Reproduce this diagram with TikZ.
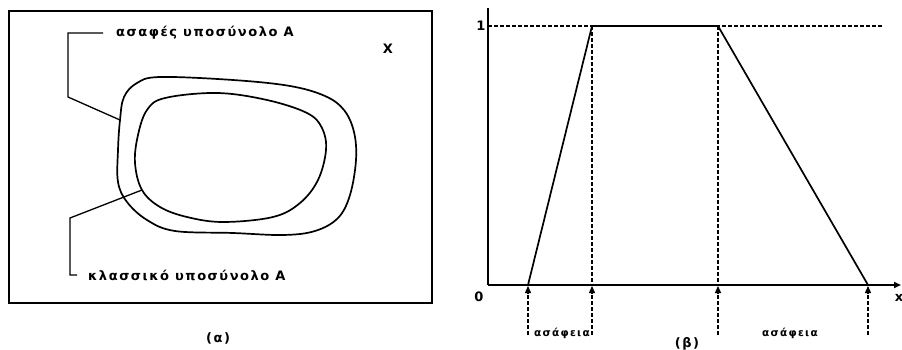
\documentclass[tikz,border=0pt]{standalone}
\usepackage{fontspec}
\setmainfont{DejaVu Sans}[LetterSpace=12]
\usepackage{tikz}
\usetikzlibrary{arrows.meta, positioning, calc}

\begin{document}
\begin{tikzpicture}[
    x=1pt, y=-1pt,
    lbl/.style={font=\fontsize{10.5}{12}\selectfont\bfseries, inner sep=0pt},
    biglbl/.style={font=\fontsize{13}{15}\selectfont\bfseries, inner sep=0pt},
    setline/.style={line width=1.7pt},
    leader/.style={line width=1.3pt},
    axis/.style={line width=1.8pt},
    guide/.style={line width=1.3pt, dash pattern=on 4pt off 2pt},
    pointer/.style={guide, -{Triangle[length=7pt, width=6pt]}},
]
\useasboundingbox (0,0) rectangle (902,350);

% (a) universe and the two sets
\draw[line width=1.5pt] (9,11) rectangle (432,303);
\node[biglbl] (univ) at (388,49) {X};

\draw[setline] plot[smooth cycle, tension=0.6] coordinates {
    (120,120) (124,97) (137,83) (160,77) (233,80) (290,86) (325,96)
    (344,110) (354,132) (356,160) (350,195) (338,218) (315,231)
    (283,235) (233,233) (175,231) (147,220) (127,202) (118,182) (118,150)};
\draw[setline] plot[smooth cycle, tension=0.6] coordinates {
    (135,163) (138,135) (147,110) (165,98) (217,93) (267,100)
    (307,113) (322,128) (326,150) (318,180) (300,203) (273,217)
    (223,222) (187,217) (160,207) (142,190)};

\coordinate (fuzzypt) at (120,120);
\coordinate (crisppt) at (142,190);

% Labels
\node[biglbl, anchor=west] (fuzzylbl) at (116,33) {ασαφές υποσύνολο Α};
\node[biglbl, anchor=west] (crisplbl) at (88,275) {κλασσικό υποσύνολο Α};
\node[biglbl] (capa) at (218,338) {(α)};

\draw[leader] ([xshift=-13pt]fuzzylbl.west) -- ++(-35,0) -- ++(0,64) -- (fuzzypt);
\draw[leader] ([xshift=-11pt]crisplbl.west) -- ++(-7,0) -- ++(0,-57) -- (crisppt);

% (b) membership function
\coordinate (orig) at (488,285);
\draw[axis] (488,8) -- (orig);
\draw[axis, -{Triangle[length=7pt, width=6pt]}] (orig) -- (901,285);
\node[biglbl] (zero) at (479,297) {0};
\node[biglbl] (one) at (481,26) {1};
\node[biglbl] (xlbl) at (899,298) {x};

\draw[guide] (488,26) -- (883,26);

\coordinate (a1) at (528,285);
\coordinate (b1) at (592,26);
\coordinate (c1) at (718,26);
\coordinate (d1) at (868,285);
\draw[setline] (a1) -- (b1) -- (c1) -- (d1);

\draw[guide] (b1) -- (592,285);
\draw[guide] (c1) -- (718,285);

\foreach \px in {528,592,718,868}
    \draw[pointer] (\px,335) -- (\px,286);

\node[lbl] (fz1) at (562,333) {ασάφεια};
\node[lbl] (fz2) at (790,333) {ασάφεια};
\node[biglbl] (capb) at (687,344) {(β)};

\end{tikzpicture}
\end{document}
